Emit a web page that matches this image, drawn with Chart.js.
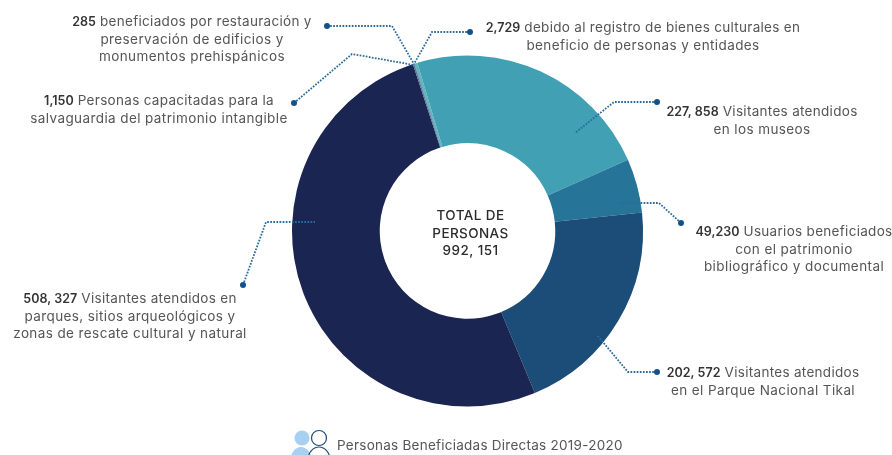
<!DOCTYPE html>
<html lang="es">
<head>
<meta charset="utf-8">
<title>Personas Beneficiadas Directas 2019-2020</title>
<script src="https://cdn.jsdelivr.net/npm/chart.js@4"></script>
<style>
  html, body { margin: 0; padding: 0; background: #fff; overflow: hidden; }
  canvas { display: block; }
</style>
</head>
<body>
<canvas id="chart" width="892" height="455"></canvas>
<script>
const categories = [
  'Registro de bienes culturales',
  'Museos',
  'Patrimonio bibliográfico y documental',
  'Parque Nacional Tikal',
  'Parques, sitios arqueológicos y zonas de rescate',
  'Salvaguardia del patrimonio intangible',
  'Edificios y monumentos prehispánicos',
];
const values = [2729, 227858, 49230, 202572, 508327, 1150, 285];
const valueLabels = ['2,729', '227, 858', '49,230', '202, 572', '508, 327', '1,150', '285'];
const labelLines = [
  [' debido al registro de bienes culturales en', 'beneficio de personas y entidades'],
  [' Visitantes atendidos', 'en los museos'],
  [' Usuarios beneficiados', 'con el patrimonio', 'bibliográfico y documental'],
  [' Visitantes atendidos', 'en el Parque Nacional Tikal'],
  [' Visitantes atendidos en', 'parques, sitios arqueológicos y', 'zonas de rescate cultural y natural'],
  [' Personas capacitadas para la', 'salvaguardia del patrimonio intangible'],
  [' beneficiados por restauración y', 'preservación de edificios y', 'monumentos prehispánicos'],
];
const centerLines = ['TOTAL DE', 'PERSONAS', '992, 151'];
const caption = 'Personas Beneficiadas Directas 2019-2020';

const colors = ['#5fb6bd', '#41a0b4', '#277499', '#1c4c78', '#1b2552', '#5a6f9c', '#3d5a8c'];
const FONT = 'Inter, "Open Sans", sans-serif';

// label anchor (centre x, first baseline) and leader path, same order as values
const callouts = [
  { x: 643, y: 32, path: [[470, 32], [432, 32], [414, 64]] },
  { x: 762, y: 116, path: [[657, 102], [614, 102], [575, 133]] },
  { x: 794, y: 236, path: [[681, 223], [659, 203], [618, 203]] },
  { x: 763, y: 377, path: [[657, 372], [628, 372], [597, 335]] },
  { x: 130, y: 303, path: [[243, 285], [266, 222], [315, 222]] },
  { x: 159, y: 105, path: [[294, 103], [352, 54], [414, 65]] },
  { x: 192, y: 26, path: [[327, 26], [392, 26], [414, 64]] },
];

const calloutPlugin = {
  id: 'callouts',
  afterDraw(ch) {
    const c = ch.ctx;
    c.save();
    callouts.forEach((o, i) => {
      // dotted leader
      c.beginPath();
      o.path.forEach(([x, y], k) => (k ? c.lineTo(x, y) : c.moveTo(x, y)));
      c.strokeStyle = '#2a6a9e';
      c.lineWidth = 1.8;
      c.setLineDash([1.7, 1.4]);
      c.stroke();
      c.setLineDash([]);
      c.beginPath();
      c.arc(o.path[0][0], o.path[0][1], 3, 0, Math.PI * 2);
      c.fillStyle = '#14508c';
      c.fill();

      // label, first line has the value in bold
      c.textBaseline = 'alphabetic';
      labelLines[i].forEach((line, k) => {
        const y = o.y + k * 17.5;
        c.font = `400 13.5px ${FONT}`;
        c.letterSpacing = '0.4px';
        if (k > 0) {
          c.textAlign = 'center';
          c.fillStyle = '#555';
          c.fillText(line, o.x, y);
          return;
        }
        c.letterSpacing = '0.3px';
        const restW = c.measureText(line).width;
        c.font = `600 12.5px ${FONT}`;
        c.letterSpacing = '0px';
        const numW = c.measureText(valueLabels[i]).width;
        const left = o.x - (numW + restW) / 2;
        c.textAlign = 'left';
        c.fillStyle = '#333';
        c.fillText(valueLabels[i], left, y);
        c.font = `400 13.5px ${FONT}`;
        c.letterSpacing = '0.3px';
        c.fillStyle = '#555';
        c.fillText(line, left + numW, y);
      });
    });

    // centre text
    const arc = ch.getDatasetMeta(0).data[0];
    c.textAlign = 'center';
    c.fillStyle = '#2b2b2b';
    c.letterSpacing = '0.4px';
    c.font = `500 13.5px ${FONT}`;
    centerLines.forEach((t, k) => c.fillText(t, arc.x + 3, 220 + k * 17.5));

    // caption and people icon
    c.textAlign = 'left';
    c.letterSpacing = '0.25px';
    c.font = `400 13.5px ${FONT}`;
    c.fillStyle = '#555';
    c.fillText(caption, 337, 450);
    c.fillStyle = '#a8d0f0';
    c.beginPath();
    c.arc(302, 438, 7.5, 0, Math.PI * 2);
    c.fill();
    c.beginPath();
    c.ellipse(301, 459, 10, 12, 0, 0, Math.PI * 2);
    c.fill();
    c.strokeStyle = '#1c4c78';
    c.lineWidth = 1.2;
    c.beginPath();
    c.arc(319, 438, 7.5, 0, Math.PI * 2);
    c.stroke();
    c.beginPath();
    c.ellipse(319, 460, 11, 13, 0, 0, Math.PI * 2);
    c.stroke();
    c.restore();
  },
};

new Chart(document.getElementById('chart'), {
  type: 'doughnut',
  plugins: [calloutPlugin],
  data: {
    labels: categories,
    datasets: [{ data: values, backgroundColor: colors, borderWidth: 0 }],
  },
  options: {
    responsive: false,
    animation: false,
    cutout: '50%',
    rotation: -17.6,
    layout: { padding: { left: 292, right: 249, top: 55, bottom: 48 } },
    plugins: { legend: { display: false }, tooltip: { enabled: false } },
  },
});
</script>
</body>
</html>
